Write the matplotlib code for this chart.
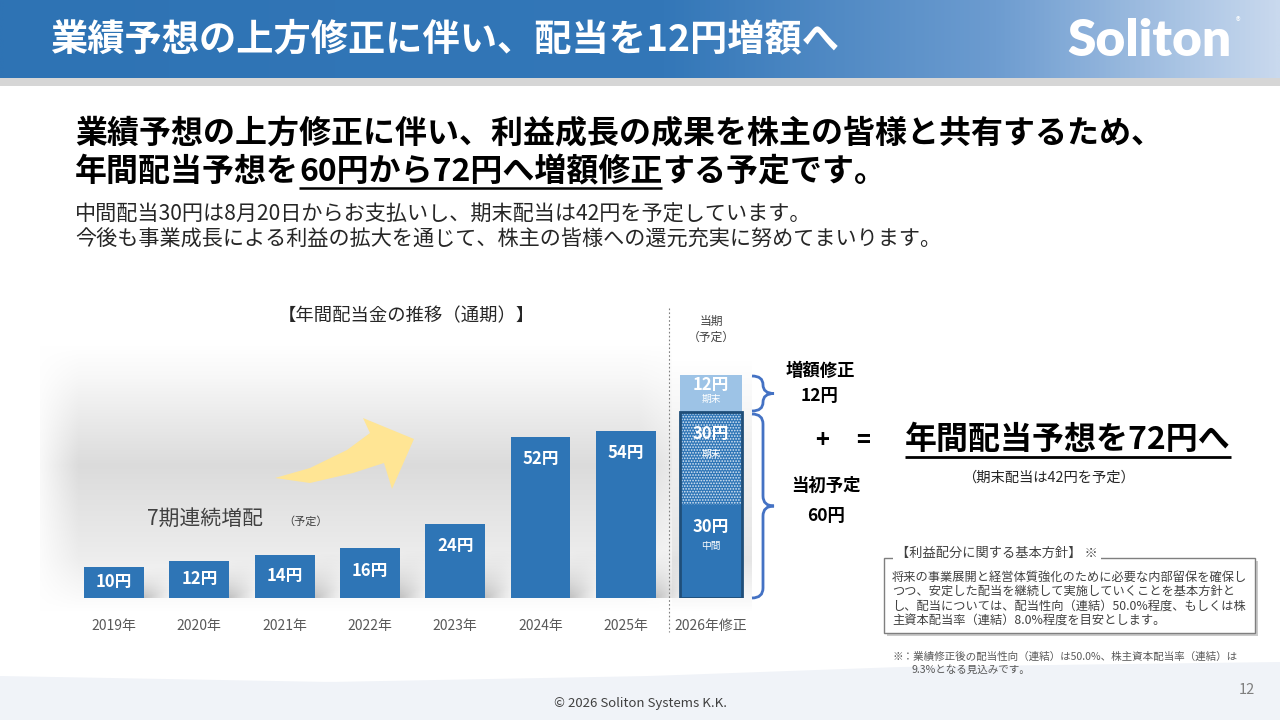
"""
年間配当金の推移スライドを再現するスクリプト
"""

import numpy as np
import matplotlib.pyplot as plt
from matplotlib.patches import Rectangle, Polygon, PathPatch
from matplotlib.path import Path
from matplotlib.colors import LinearSegmentedColormap

plt.rcParams['font.family'] = ['Noto Sans CJK JP', 'DejaVu Sans']
plt.rcParams['hatch.linewidth'] = 0.8

# データ
years = ['2019年', '2020年', '2021年', '2022年', '2023年', '2024年', '2025年']
dividends = [10, 12, 14, 16, 24, 52, 54]
current_year = '2026年修正'
interim = 30            # 中間
year_end_initial = 30   # 期末（当初）
increase = 12           # 増額分（期末）

title = '業績予想の上方修正に伴い、配当を12円増額へ'
lead1 = '業績予想の上方修正に伴い、利益成長の成果を株主の皆様と共有するため、'
lead2 = [('年間配当予想を', False), ('60円から72円へ増額修正', True), ('する予定です。', False)]
sub_lines = ['中間配当30円は8月20日からお支払いし、期末配当は42円を予定しています。',
             '今後も事業成長による利益の拡大を通じて、株主の皆様への還元充実に努めてまいります。']
policy_title = '【利益配分に関する基本方針】 ※'
policy_lines = ['将来の事業展開と経営体質強化のために必要な内部留保を確保し',
                'つつ、安定した配当を継続して実施していくことを基本方針と',
                'し、配当については、配当性向（連結）50.0%程度、もしくは株',
                '主資本配当率（連結）8.0%程度を目安とします。']
note_lines = ['※：業績修正後の配当性向（連結）は50.0%、株主資本配当率（連結）は',
              '9.3%となる見込みです。']

W, H = 1280, 720
BLUE = '#2E75B6'
fig = plt.figure(figsize=(12.8, 7.2), dpi=100)
fig.patch.set_facecolor('white')


def px_axes(z):
    # 1データ単位 = 1ピクセル（上が0）
    a = fig.add_axes([0, 0, 1, 1], zorder=z)
    a.set_xlim(0, W)
    a.set_ylim(H, 0)
    a.set_autoscale_on(False)
    a.axis('off')
    a.patch.set_alpha(0)
    return a


back = px_axes(0)

# ヘッダー帯
hcmap = LinearSegmentedColormap.from_list(
    'hdr', [(0, '#2E73B4'), (0.52, '#3377B8'), (0.78, '#6D9CD0'), (1, '#C9D9EE')])
back.imshow(np.linspace(0, 1, 512)[None, :], extent=(0, W, 78, 0), aspect='auto', cmap=hcmap)
back.add_patch(Rectangle((0, 78), W, 8, color='#D6D6D6', lw=0))

# 下部の帯（波形）
bx = np.linspace(0, W, 100)
btop = np.interp(bx, [0, 330, 650, 900, 1280], [676, 682, 676, 667, 662])
back.fill_between(bx, btop, H, color='#F0F3F8', lw=0)

# グラフ背景のグラデーション
ys = np.linspace(0, 1, 200)
prof = np.interp(ys, [0, 0.12, 0.45, 0.8, 1.0], [1.0, 0.97, 0.86, 0.93, 1.0])
xs = np.linspace(0, 1, 300)
xfade = np.interp(xs, [0, 0.06, 0.95, 1], [0.2, 1, 1, 0.6])
g = 1 - (1 - prof[:, None]) * xfade[None, :]
back.imshow(np.dstack([g, g, g]), extent=(40, 672, 612, 345), aspect='auto')
g2 = 1 - (1 - np.interp(ys, [0, 0.3, 0.8, 1], [1, 0.95, 0.9, 1.0]))[:, None] * np.ones((1, 40))
back.imshow(np.dstack([g2, g2, g2]), extent=(672, 752, 612, 360), aspect='auto')

# 黄色の矢印
arrow_pts = [(275, 478), (310, 468), (347, 450), (370, 433), (363, 418), (414, 439),
             (392, 489), (384, 463), (353, 473), (310, 483)]
back.add_patch(Polygon(arrow_pts, closed=True, color='#FFE594', lw=0))

# 棒グラフ（1円 = 3.1px）
ax = fig.add_axes([45.8 / W, (H - 598) / H, 733.6 / W, 248 / H], zorder=1)
ax.set_xlim(-0.8, 7.8)
ax.set_ylim(0, 80)
ax.set_autoscale_on(False)
ax.axis('off')
ax.patch.set_alpha(0)

x = np.arange(len(years))

# 棒の右側のぼかした影
uu = np.linspace(0, 1, 60)[None, :]
tt = np.linspace(0, 1, 60)[:, None]
shadow_a = 0.42 * (1 - uu) ** 1.4 * np.clip(1 - tt + 0.35 * uu, 0, 1) ** 1.6
shadow = np.zeros((60, 60, 4))
shadow[..., :3] = 0.45
shadow[..., 3] = shadow_a
for i, v in zip(x, dividends):
    hs = min(v, 15)
    ax.imshow(shadow, extent=(i + 0.35, i + 0.75, 0, hs), origin='lower', aspect='auto',
              zorder=1, interpolation='bilinear')

ax.bar(x, dividends, width=0.7, color=BLUE, zorder=2)
for i, v in zip(x, dividends):
    ax.text(i, v - min(7.2, v / 2), f'{v}円', ha='center', va='center', color='white',
            fontsize=12, fontweight='bold', zorder=3)
    ax.text(i, -9, years[i], ha='center', va='center', color='#595959', fontsize=10)

# 当期（積み上げ）
cx = len(years)
bw = 0.72
ax.bar(cx, interim, bw, color=BLUE, zorder=2)
ax.bar(cx, year_end_initial, bw, bottom=interim, color=BLUE, hatch='......',
       edgecolor='#DCE8F5', lw=0, zorder=2)
ax.bar(cx, interim + year_end_initial, bw, fill=False, edgecolor='#1F4E79', lw=2, zorder=3)
ax.bar(cx, increase, bw, bottom=interim + year_end_initial, color='#9DC3E6', zorder=2)
top = interim + year_end_initial
ax.text(cx, top + 8.7, f'{increase}円', ha='center', va='center', color='white',
        fontsize=12, fontweight='bold', zorder=4)
ax.text(cx, top + 4.2, '期末', ha='center', va='center', color='white', fontsize=7, zorder=4)
ax.text(cx, interim + 22.9, f'{year_end_initial}円', ha='center', va='center', color='white',
        fontsize=12, fontweight='bold', zorder=4)
ax.text(cx, interim + 16.6, '期末', ha='center', va='center', color='white', fontsize=7, zorder=4)
ax.text(cx, 22.9, f'{interim}円', ha='center', va='center', color='white',
        fontsize=12, fontweight='bold', zorder=4)
ax.text(cx, 16.8, '中間', ha='center', va='center', color='white', fontsize=7, zorder=4)
ax.text(cx, -9, current_year, ha='center', va='center', color='#595959', fontsize=10)

# 前面のテキスト類
ov = px_axes(2)
r = fig.canvas.get_renderer()


def run_text(x0, y0, parts, ul_off, ul_lw, **kw):
    xx = x0
    for s, ul in parts:
        t = ov.text(xx, y0, s, ha='left', va='center', **kw)
        w = t.get_window_extent(renderer=r).width
        if ul:
            ov.plot([xx, xx + w], [y0 + ul_off, y0 + ul_off], color='black', lw=ul_lw,
                    solid_capstyle='butt')
        xx += w


ov.text(50, 40, title, ha='left', va='center', color='white', fontsize=26.8, fontweight='bold')
ov.text(1149, 41, 'Soliton', ha='center', va='center', color='white', fontsize=37,
        fontweight='heavy', family=['Lato', 'DejaVu Sans'])
ov.text(1238, 22, '®', ha='center', va='center', color='white', fontsize=7)

ov.text(75, 133, lead1, ha='left', va='center', color='black', fontsize=23, fontweight='bold')
run_text(75, 172, lead2, 16, 1.8, color='black', fontsize=23, fontweight='bold')
for k, s in enumerate(sub_lines):
    ov.text(75, 215 + 25 * k, s, ha='left', va='center', color='#262626', fontsize=15.2)

ov.text(406, 316, '【年間配当金の推移（通期）】', ha='center', va='center', color='#262626', fontsize=13.2)
ov.plot([669, 669], [308, 632], color='#7F7F7F', lw=0.8, ls=(0, (1.5, 2)))
ov.text(711, 321, '当期', ha='center', va='center', color='#404040', fontsize=8.5)
ov.text(711, 337, '（予定）', ha='center', va='center', color='#404040', fontsize=8.5)
ov.text(147, 519, '7期連続増配', ha='left', va='center', color='#404040', fontsize=15)
ov.text(306, 521, '（予定）', ha='center', va='center', color='#404040', fontsize=8)


def brace(x0, y0, y1, w, color='#4472C4'):
    ym = (y0 + y1) / 2
    xm = x0 + w * 0.5
    rr = min(10, (y1 - y0) / 4)
    verts = [(x0, y0), (xm, y0), (xm, y0 + rr), (xm, ym - rr), (xm, ym), (x0 + w, ym),
             (xm, ym), (xm, ym + rr), (xm, y1 - rr), (xm, y1), (x0, y1)]
    codes = [Path.MOVETO, Path.CURVE3, Path.CURVE3, Path.LINETO, Path.CURVE3, Path.CURVE3,
             Path.CURVE3, Path.CURVE3, Path.LINETO, Path.CURVE3, Path.CURVE3]
    ov.add_patch(PathPatch(Path(verts, codes), fill=False, edgecolor=color, lw=2))


brace(752, 376, 411, 22)
brace(752, 414, 598, 22)

ov.text(820, 371, '増額修正', ha='center', va='center', color='black', fontsize=12.5, fontweight='bold')
ov.text(820, 396, f'{increase}円', ha='center', va='center', color='black', fontsize=12.5, fontweight='bold')
ov.text(822, 441, '+', ha='center', va='center', color='black', fontsize=17, fontweight='bold')
ov.text(863, 441, '=', ha='center', va='center', color='black', fontsize=17, fontweight='bold')
ov.text(826, 486, '当初予定', ha='center', va='center', color='black', fontsize=12.5, fontweight='bold')
ov.text(826, 516, f'{interim + year_end_initial}円', ha='center', va='center', color='black',
        fontsize=12.5, fontweight='bold')
total = interim + year_end_initial + increase
run_text(905, 440, [(f'年間配当予想を{total}円へ', True)], 17, 2, color='black',
         fontsize=23, fontweight='bold')
ov.text(1048, 478, f'（期末配当は{year_end_initial + increase}円を予定）', ha='center', va='center',
        color='#262626', fontsize=10.3)

# 基本方針ボックス
ov.add_patch(Rectangle((887, 561), 371, 75, color='#BFBFBF', lw=0, alpha=0.8))
ov.add_patch(Rectangle((884, 558), 371, 75, facecolor='white', edgecolor='#7F7F7F', lw=1))
ov.text(997, 553, policy_title, ha='center', va='center', color='#404040', fontsize=9.5,
        bbox=dict(facecolor='white', edgecolor='none', pad=2))
for k, s in enumerate(policy_lines):
    ov.text(892, 577 + 14.5 * k, s, ha='left', va='center', color='#404040', fontsize=8.8)
ov.text(892, 657, note_lines[0], ha='left', va='center', color='#595959', fontsize=7.6)
ov.text(912, 670, note_lines[1], ha='left', va='center', color='#595959', fontsize=7.6)

ov.text(640, 703, '© 2026 Soliton Systems K.K.', ha='center', va='center', color='#404040', fontsize=9.5)
ov.text(1247, 690, '12', ha='center', va='center', color='#7F7F7F', fontsize=10.5)

fig.savefig('out.png', dpi=100)
